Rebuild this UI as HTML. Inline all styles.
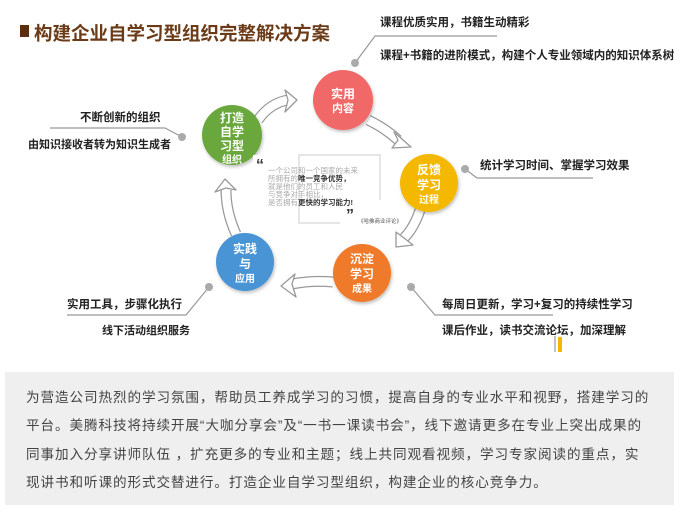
<!DOCTYPE html>
<html><head><meta charset="utf-8"><style>
body{margin:0;width:679px;height:514px;background:#fff;position:relative;overflow:hidden;font-family:"Liberation Sans","Noto Sans CJK SC",sans-serif}
.t{position:absolute;white-space:nowrap;font-weight:bold;color:#222;font-size:11.5px;line-height:14px}
.box{position:absolute;left:5px;top:372px;width:669px;height:133px;background:#efefef}
.box p{margin:0;position:absolute;left:21px;top:12px;white-space:nowrap;font-size:13.6px;line-height:28.3px;color:#444;letter-spacing:0.9px}
</style></head><body>
<div style="position:absolute;left:20px;top:25px;width:9px;height:12px;background:#5a2e0e"></div>
<div class="t" style="left:34px;top:22px;font-size:18.5px;line-height:24px;color:#6b3a17">构建企业自学习型组织完整解决方案</div>

<svg width="679" height="372" style="position:absolute;left:0;top:0">
<defs><filter id="s" x="-20%" y="-20%" width="140%" height="140%"><feDropShadow dx="1" dy="2" stdDeviation="1.5" flood-opacity="0.25"/></filter></defs>
<g fill="none" stroke="#999" stroke-width="1.2">
<polyline points="355,63 375,36 497,36"/>
<polyline points="465,169 477,178 593,178"/>
<polyline points="411,287 435,315 553,315"/>
<polyline points="209,287 186,315 67,315"/>
<polyline points="182,137 165,128 50,128"/>
<line x1="555" y1="336" x2="555" y2="352"/>
</g>
<rect x="558" y="337" width="4" height="15" fill="#f5b800"/>
<g fill="#aaa"><circle cx="355" cy="63" r="4"/><circle cx="465" cy="169" r="4"/><circle cx="411" cy="287" r="4"/><circle cx="209" cy="287" r="4"/><circle cx="182" cy="137" r="4"/></g>
<rect x="299" y="155" width="81" height="68" fill="none" stroke="#ddd" stroke-width="1.5"/>
<rect x="250" y="152" width="48" height="60" fill="#fff"/>
<rect x="340" y="200" width="60" height="30" fill="#fff"/>
<g stroke-linejoin="round">
<g fill="none">
<path d="M258,120 Q270,103 288,100" stroke="#999" stroke-width="11"/><path d="M258,120 Q270,103 288,100" stroke="#fff" stroke-width="8.5"/>
<path d="M368,120 Q385,128 398,140" stroke="#999" stroke-width="11"/><path d="M368,120 Q385,128 398,140" stroke="#fff" stroke-width="8.5"/>
<path d="M420,210 Q414,228 404,238" stroke="#999" stroke-width="11"/><path d="M420,210 Q414,228 404,238" stroke="#fff" stroke-width="8.5"/>
<path d="M333,282 Q312,280 292,284" stroke="#999" stroke-width="11"/><path d="M333,282 Q312,280 292,284" stroke="#fff" stroke-width="8.5"/>
<path d="M236,234 Q226,212 226,190" stroke="#999" stroke-width="11"/><path d="M236,234 Q226,212 226,190" stroke="#fff" stroke-width="8.5"/>
</g>
<g fill="#fff" stroke="#999" stroke-width="1.3">
<polygon points="285,90 297,100 285,112 288,100"/>
<polygon points="394,132 411,147 392,148 398,140"/>
<polygon points="396,232 396,247 413,245 404,238"/>
<polygon points="295,274 281,286 296,297 292,284"/>
<polygon points="215,192 225,179 236,190 226,188"/>
</g></g>
<g filter="url(#s)">
<circle cx="343" cy="100" r="30" fill="#f06868"/>
<circle cx="429" cy="183" r="29" fill="#f5b800"/>
<circle cx="362" cy="273" r="29" fill="#ee7a2c"/>
<circle cx="245" cy="262" r="29" fill="#4a94d4"/>
<circle cx="232" cy="135" r="30" fill="#6aa83e"/>
</g>
<rect x="253" y="155" width="16" height="16" fill="#fff"/>
<g fill="#fff" font-weight="bold" text-anchor="middle" font-family="Liberation Sans,Noto Sans CJK SC,sans-serif">
<text x="343" y="98" font-size="12">实用</text><text x="343" y="112" font-size="11">内容</text>
<text x="429" y="174" font-size="12">反馈</text><text x="429" y="189" font-size="12">学习</text><text x="429" y="203" font-size="10">过程</text>
<text x="362" y="263" font-size="12">沉淀</text><text x="362" y="278" font-size="12">学习</text><text x="362" y="292" font-size="10">成果</text>
<text x="245" y="253" font-size="12">实践</text><text x="245" y="268" font-size="12">与</text><text x="245" y="282" font-size="10">应用</text>
<text x="232" y="122" font-size="12">打造</text><text x="232" y="136" font-size="12">自学</text><text x="232" y="150" font-size="12">习型</text><text x="232" y="163" font-size="10">组织</text>
</g>
<g font-family="Liberation Sans,Noto Sans CJK SC,sans-serif" font-size="7.5" fill="#aaa">
<text x="256" y="170" font-size="16" font-weight="bold" fill="#333">“</text>
<text x="268" y="173">一个公司和一个国家的未来</text>
<text x="268" y="181">所拥有的<tspan fill="#333" font-weight="bold">唯一竞争优势，</tspan></text>
<text x="268" y="189">就是他们的员工和人民</text>
<text x="268" y="197">与竞争对手相比，</text>
<text x="268" y="205">是否拥有<tspan fill="#333" font-weight="bold">更快的学习能力!</tspan></text>
<text x="346" y="220" font-size="16" font-weight="bold" fill="#333">”</text>
<text x="358" y="223" font-size="5.5" fill="#555">《哈佛商业评论》</text>
</g>
</svg>

<div class="t" style="left:380px;top:16px">课程优质实用，书籍生动精彩</div>
<div class="t" style="left:380px;top:49px">课程+书籍的进阶模式，构建个人专业领域内的知识体系树</div>
<div class="t" style="left:480px;top:159px">统计学习时间、掌握学习效果</div>
<div class="t" style="left:442px;top:298px">每周日更新，学习+复习的持续性学习</div>
<div class="t" style="left:442px;top:324px">课后作业，读书交流论坛，加深理解</div>
<div class="t" style="left:67px;top:298px">实用工具，步骤化执行</div>
<div class="t" style="left:102px;top:324px;font-size:11px">线下活动组织服务</div>
<div class="t" style="left:80px;top:111px">不断创新的组织</div>
<div class="t" style="left:28px;top:138px;font-size:11px">由知识接收者转为知识生成者</div>

<div class="box"><p>为营造公司热烈的学习氛围，帮助员工养成学习的习惯，提高自身的专业水平和视野，搭建学习的<br>平台。美腾科技将持续开展“大咖分享会”及“一书一课读书会”，线下邀请更多在专业上突出成果的<br>同事加入分享讲师队伍 ，扩充更多的专业和主题；线上共同观看视频，学习专家阅读的重点，实<br>现讲书和听课的形式交替进行。打造企业自学习型组织，构建企业的核心竞争力。</p></div>
</body></html>
